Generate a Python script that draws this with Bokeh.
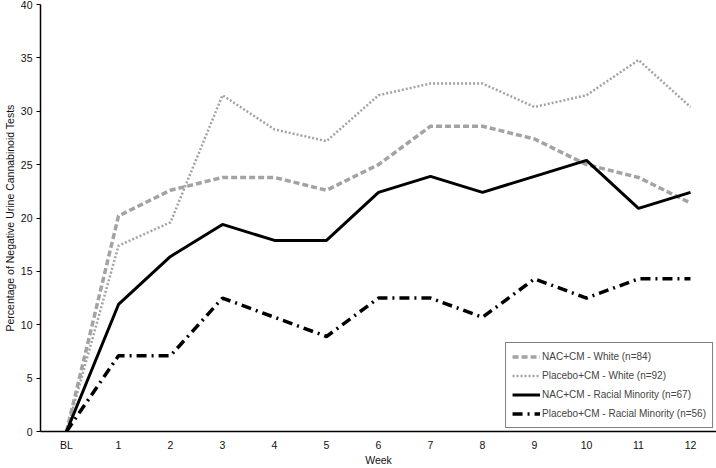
from bokeh.plotting import figure
from bokeh.models import Range1d, FixedTicker, Legend, LegendItem
from bokeh.embed import file_html
from bokeh.resources import INLINE

weeks = list(range(13))
week_labels = ["BL", "1", "2", "3", "4", "5", "6", "7", "8", "9", "10", "11", "12"]

nac_white = [0, 20.2, 22.6, 23.8, 23.8, 22.6, 25.0, 28.6, 28.6, 27.4, 25.0, 23.8, 21.4]
placebo_white = [0, 17.4, 19.6, 31.5, 28.3, 27.2, 31.5, 32.6, 32.6, 30.4, 31.5, 34.8, 30.4]
nac_minority = [0, 11.9, 16.4, 19.4, 17.9, 17.9, 22.4, 23.9, 22.4, 23.9, 25.4, 20.9, 22.4]
placebo_minority = [0, 7.1, 7.1, 12.5, 10.7, 8.9, 12.5, 12.5, 10.7, 14.3, 12.5, 14.3, 14.3]

names = ["NAC+CM - White (n=84)", "Placebo+CM - White (n=92)",
         "NAC+CM - Racial Minority (n=67)", "Placebo+CM - Racial Minority (n=56)"]

FONT = "Liberation Sans"

p = figure(width=716, height=468, output_backend="svg", toolbar_location=None,
           x_range=Range1d(-0.5, 12.5), y_range=Range1d(0, 40),
           min_border_right=0, min_border_top=4, min_border_left=0, min_border_bottom=0)
p.outline_line_color = None
p.xgrid.visible = False
p.ygrid.visible = False

r1 = p.line(weeks, nac_white, line_color="#a3a3a3", line_width=3.5, line_dash="6 3")
r2 = p.line(weeks, placebo_white, line_color="#a3a3a3", line_width=2.5, line_dash="2 2")
r3 = p.line(weeks, nac_minority, line_color="black", line_width=3)
r4 = p.line(weeks, placebo_minority, line_color="black", line_width=3.5, line_dash="10 5 2 5")

legend = Legend(items=[LegendItem(label=n, renderers=[r]) for n, r in zip(names, [r1, r2, r3, r4])],
                location="bottom_right")
legend.label_text_font = FONT
legend.label_text_font_size = "10px"
legend.border_line_color = "black"
legend.border_line_width = 1
legend.background_fill_alpha = 1
legend.glyph_width = 28
legend.glyph_height = 15
legend.spacing = 4
legend.padding = 6
legend.margin = 3
legend.label_standoff = 2
p.add_layout(legend)

xt = FixedTicker(ticks=weeks, minor_ticks=[w - 0.5 for w in weeks] + [12.5])
p.xaxis.ticker = xt
p.xaxis.major_label_overrides = {w: l for w, l in zip(weeks, week_labels)}
p.xaxis.major_tick_out = 0
p.xaxis.major_tick_in = 0
p.xaxis.minor_tick_out = 4
p.xaxis.minor_tick_in = 0
p.xaxis.axis_label = "Week"

p.yaxis.ticker = FixedTicker(ticks=list(range(0, 45, 5)))
p.yaxis.major_tick_out = 4
p.yaxis.major_tick_in = 0
p.yaxis.minor_tick_line_color = None
p.yaxis.axis_label = "Percentage of Negative Urine Cannabinoid Tests"

for ax in [p.xaxis, p.yaxis]:
    ax.axis_line_color = "black"
    ax.axis_line_width = 1.5
    ax.major_tick_line_color = "black"
    ax.minor_tick_line_color = "black" if ax is p.xaxis else None
    ax.major_label_text_font = FONT
    ax.major_label_text_font_size = "10.5px"
    ax.major_label_text_color = "#111111"
    ax.axis_label_text_font = FONT
    ax.axis_label_text_font_size = "10.5px"
    ax.axis_label_text_font_style = "normal"
    ax.axis_label_text_color = "#111111"

p.xaxis.axis_label_standoff = 0
p.xaxis.major_label_standoff = 3
p.yaxis.axis_label_standoff = 2
p.yaxis.major_label_standoff = 4

open("out.html", "w").write(file_html(p, INLINE))
